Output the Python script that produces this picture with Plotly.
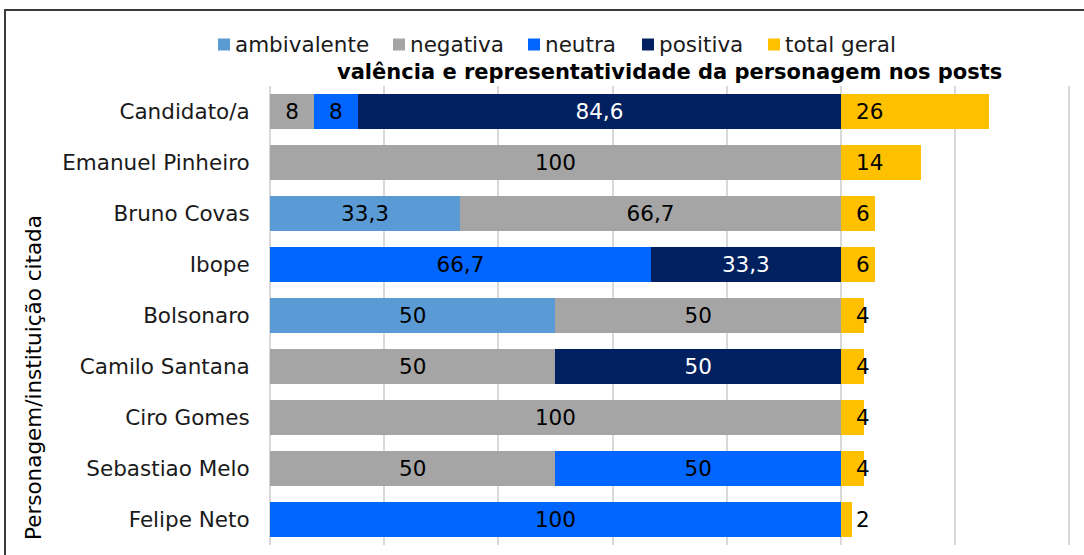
import plotly.graph_objects as go

categories = ["Candidato/a", "Emanuel Pinheiro", "Bruno Covas", "Ibope", "Bolsonaro",
              "Camilo Santana", "Ciro Gomes", "Sebastiao Melo", "Felipe Neto"]
ambivalente = [0, 0, 33.3, 0, 50, 0, 0, 0, 0]
negativa = [7.7, 100, 66.7, 0, 50, 50, 100, 50, 0]
neutra = [7.7, 0, 0, 66.7, 0, 0, 0, 50, 100]
positiva = [84.6, 0, 0, 33.3, 0, 50, 0, 0, 0]
total_geral = [26, 14, 6, 6, 4, 4, 4, 4, 2]
x_ticks = [0, 20, 40, 60, 80, 100, 120, 140]

FONT = "DejaVu Sans"
FS = 21.5
W, H = 1084, 555
L, R, T, B = 270, 9, 86, 10
PW, PH = W - L - R, H - T - B


def px_x(p):
    return (p - L) / PW


def px_y(p):
    return (H - B - p) / PH


def fmt(v):
    if v == 0:
        return ""
    if v < 10:
        return str(round(v))
    s = f"{v:.1f}".replace(".", ",")
    return s[:-2] if s.endswith(",0") else s


series = [
    ("ambivalente", ambivalente, "#5B9BD5", "black"),
    ("negativa", negativa, "#A5A5A5", "black"),
    ("neutra", neutra, "#0066FF", "black"),
    ("positiva", positiva, "#002060", "white"),
]

fig = go.Figure()
for name, vals, color, tcolor in series:
    fig.add_trace(go.Bar(
        y=categories, x=vals, name=name, orientation="h",
        marker=dict(color=color, line=dict(width=0)),
        text=[fmt(v) for v in vals], textposition="inside",
        insidetextanchor="middle", constraintext="none",
        textfont=dict(family=FONT, size=FS, color=tcolor),
        hoverinfo="skip", showlegend=False,
    ))

base = [a + n + ne + p for a, n, ne, p in zip(ambivalente, negativa, neutra, positiva)]
fig.add_trace(go.Bar(
    y=categories, x=total_geral, name="total geral", orientation="h",
    marker=dict(color="#FFC000", line=dict(width=0)),
    textposition="none", hoverinfo="skip", showlegend=False,
))
for c, b, t in zip(categories, base, total_geral):
    fig.add_annotation(x=b, y=c, xref="x", yref="y", text=str(t), showarrow=False,
                       xanchor="left", xshift=13,
                       font=dict(family=FONT, size=FS, color="black"))

# custom legend (square + label), matching the reference spacing
legend_items = [("ambivalente", "#5B9BD5", 218), ("negativa", "#A5A5A5", 393),
                ("neutra", "#0066FF", 528), ("positiva", "#002060", 642),
                ("total geral", "#FFC000", 768)]
for label, color, sx in legend_items:
    fig.add_shape(type="rect", xref="paper", yref="paper",
                  x0=px_x(sx), x1=px_x(sx + 12), y0=px_y(50.5), y1=px_y(38.5),
                  line=dict(width=0), fillcolor=color)
    fig.add_annotation(x=px_x(sx + 15), y=px_y(44.5), xref="paper", yref="paper",
                       text=label, showarrow=False, xanchor="left", yanchor="middle",
                       font=dict(family=FONT, size=FS, color="#1a1a1a"))

fig.add_annotation(x=px_x(1004), y=px_y(72), xref="paper", yref="paper",
                   text="<b>valência e representatividade da personagem nos posts</b>",
                   showarrow=False, xanchor="right", yanchor="middle",
                   font=dict(family=FONT, size=21, color="black"))
fig.add_annotation(x=px_x(33), y=px_y(378), xref="paper", yref="paper",
                   text="Personagem/instituição citada", textangle=-90,
                   showarrow=False, xanchor="center", yanchor="middle",
                   font=dict(family=FONT, size=FS, color="black"))

fig.add_shape(type="rect", xref="paper", yref="paper",
              x0=px_x(5), x1=px_x(1095), y0=px_y(570), y1=px_y(10),
              line=dict(color="#3a3a3a", width=2), fillcolor="rgba(0,0,0,0)", layer="below")

fig.update_layout(
    width=W, height=H, barmode="stack", bargap=0.33,
    margin=dict(l=L, r=R, t=T, b=B, autoexpand=False),
    paper_bgcolor="white", plot_bgcolor="white",
    font=dict(family=FONT, size=FS, color="black"),
    showlegend=False,
    xaxis=dict(range=[0, 141], tickvals=x_ticks, showticklabels=False,
               showgrid=True, gridcolor="#D9D9D9", gridwidth=1.5,
               zeroline=True, zerolinecolor="#D9D9D9", zerolinewidth=1.5,
               showline=False, fixedrange=True),
    yaxis=dict(categoryorder="array", categoryarray=categories, autorange="reversed",
               ticks="outside", ticklen=15, tickcolor="rgba(0,0,0,0)",
               tickfont=dict(family=FONT, size=FS, color="#1a1a1a"),
               showgrid=False, zeroline=False, showline=False, fixedrange=True),
)

fig.write_html("out.html", config={"displayModeBar": False},
               post_script="document.body.style.margin='0';")
